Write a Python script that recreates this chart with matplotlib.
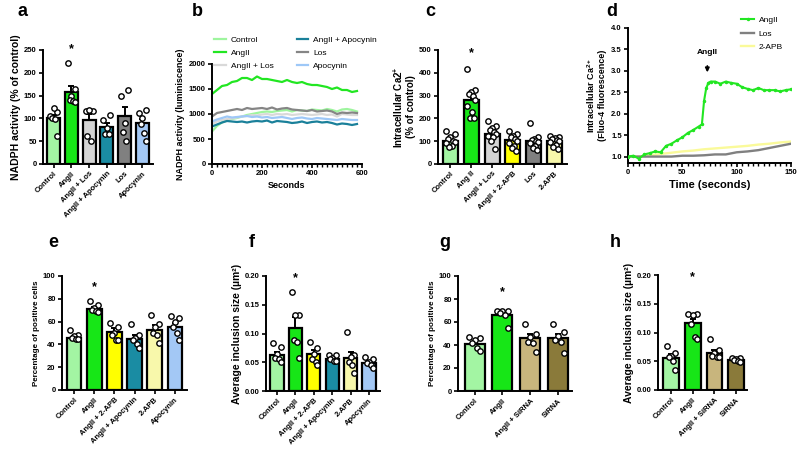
import numpy as np
import matplotlib
matplotlib.use('Agg')
import matplotlib.pyplot as plt
from matplotlib.ticker import MultipleLocator, FormatStrFormatter

plt.rcParams['font.family'] = ['Liberation Sans', 'DejaVu Sans']
plt.rcParams['mathtext.fontset'] = 'custom'
plt.rcParams['mathtext.rm'] = 'Liberation Sans:bold'
plt.rcParams['mathtext.bf'] = 'Liberation Sans:bold'
plt.rcParams['mathtext.default'] = 'bf'

# ---------------- colours ----------------
c_ctrl = '#a3f5a3'
c_ang = '#17e617'
c_ang_los = '#d4d4d4'
c_ang_apo = '#1a8ca3'
c_los = '#808080'
c_apo = '#a3c8f5'
c_ang_apb = '#ffff00'
c_apb = '#f8f8ab'
c_ang_si = '#c8b57d'
c_si = '#8a7a3a'

# ---------------- panel a ----------------
a_labels = ['Control', 'AngII', 'AngII + Los', 'AngII + Apocynin', 'Los', 'Apocynin']
a_means = [100, 157, 96, 81, 106, 90]
a_sems = [7, 14, 14, 8, 19, 9]
a_points = [[105, 113, 122, 100, 98, 62],
            [222, 165, 150, 140, 138, 135],
            [117, 117, 118, 62, 50],
            [96, 108, 78, 65, 65],
            [150, 163, 90, 70, 50],
            [111, 118, 100, 88, 68, 50]]

# ---------------- panel b ----------------
b_time = np.arange(0, 600, 20)
b_control = [650, 760, 830, 870, 900, 920, 950, 980, 1000, 1020, 1040, 1050, 1040, 1060, 1070,
             1080, 1050, 1080, 1070, 1060, 1090, 1080, 1070, 1100, 1080, 1050, 1090, 1100, 1080, 1050]
b_angii = [1400, 1480, 1560, 1580, 1640, 1660, 1720, 1720, 1680, 1750, 1700, 1700, 1680, 1660, 1640,
           1680, 1640, 1620, 1640, 1600, 1580, 1580, 1560, 1540, 1500, 1530, 1480, 1480, 1440, 1460]
b_angii_los = [800, 850, 880, 900, 910, 930, 950, 960, 980, 970, 990, 1000, 980, 1000, 990,
               1000, 980, 990, 1000, 990, 980, 990, 1000, 980, 990, 950, 1000, 990, 980, 980]
b_angii_apo = [750, 790, 830, 860, 850, 840, 850, 830, 850, 860, 850, 870, 830, 860, 850,
               840, 820, 830, 850, 820, 840, 850, 830, 840, 820, 790, 810, 800, 780, 800]
b_los = [950, 1020, 1040, 1060, 1080, 1100, 1080, 1120, 1100, 1110, 1120, 1100, 1130, 1090, 1110,
         1120, 1090, 1080, 1070, 1060, 1080, 1050, 1060, 1070, 1050, 1000, 1030, 1020, 1030, 1020]
b_apo = [850, 890, 920, 950, 930, 940, 950, 960, 940, 950, 930, 940, 920, 930, 940,
         920, 900, 920, 930, 910, 900, 920, 910, 900, 890, 880, 900, 890, 880, 880]

# ---------------- panel c ----------------
c_labels = ['Control', 'Ang II', 'AngII + Los', 'AngII + 2-APB', 'Los', '2-APB']
c_means = [100, 280, 130, 105, 100, 100]
c_sems = [10, 18, 10, 10, 10, 6]
c_points = [[145, 130, 120, 110, 100, 95, 90, 80, 75],
            [415, 325, 315, 305, 300, 280, 255, 230, 200, 200],
            [190, 165, 160, 150, 140, 130, 125, 120, 100, 65],
            [145, 130, 125, 120, 110, 100, 90, 80, 70, 55],
            [178, 120, 110, 105, 100, 95, 90, 80, 70, 60],
            [125, 120, 115, 110, 105, 100, 95, 85, 75, 65]]

# ---------------- panel d ----------------
d_time = [0, 5, 10, 15, 20, 25, 30, 35, 40, 45, 50, 55, 60, 65, 68, 70, 72, 74, 76, 80,
          85, 90, 95, 100, 105, 110, 115, 120, 125, 130, 135, 140, 145, 150]
d_angii = [1.0, 1.02, 0.95, 1.05, 1.08, 1.12, 1.1, 1.25, 1.3, 1.38, 1.45, 1.55, 1.62, 1.7, 1.75,
           2.3, 2.6, 2.72, 2.75, 2.75, 2.7, 2.75, 2.72, 2.7, 2.62, 2.58, 2.55, 2.6, 2.55, 2.55,
           2.55, 2.52, 2.55, 2.57]
d_time2 = np.arange(0, 151, 10)
d_los = [1.0, 1.0, 1.0, 1.0, 1.0, 1.02, 1.02, 1.03, 1.05, 1.05, 1.1, 1.12, 1.15, 1.2, 1.25, 1.3]
d_apb = [1.0, 1.0, 1.03, 1.06, 1.09, 1.12, 1.14, 1.17, 1.19, 1.21, 1.23, 1.25, 1.28, 1.3, 1.33, 1.35]

# ---------------- panels e / f ----------------
ef_labels = ['Control', 'AngII', 'AngII + 2-APB', 'AngII + Apocynin', '2-APB', 'Apocynin']
e_means = [46, 71, 51, 45, 53, 55]
e_sems = [1.5, 2, 3, 3.5, 4, 3.5]
e_points = [[53, 48, 47, 46, 45, 45],
            [78, 75, 72, 70, 69, 68],
            [59, 55, 50, 48, 44, 44],
            [58, 48, 46, 44, 40, 37],
            [66, 58, 55, 50, 48, 41],
            [65, 63, 60, 55, 50, 44]]
f_means = [0.063, 0.110, 0.065, 0.055, 0.057, 0.049]
f_sems = [0.005, 0.018, 0.007, 0.003, 0.011, 0.003]
f_points = [[0.083, 0.077, 0.065, 0.058, 0.055, 0.050],
            [0.172, 0.133, 0.132, 0.088, 0.085, 0.057],
            [0.085, 0.075, 0.065, 0.055, 0.050, 0.046],
            [0.063, 0.062, 0.058, 0.055, 0.052, 0.053],
            [0.103, 0.062, 0.060, 0.050, 0.045, 0.031],
            [0.060, 0.055, 0.050, 0.048, 0.045, 0.040]]

# ---------------- panels g / h ----------------
gh_labels = ['Control', 'AngII', 'AngII + SiRNA', 'SiRNA']
g_means = [41, 66, 46, 46]
g_sems = [2.5, 2.5, 3.5, 3.5]
g_points = [[47, 46, 44, 42, 37, 35],
            [70, 70, 70, 68, 66, 55],
            [58, 50, 47, 43, 42, 34],
            [58, 51, 48, 44, 43, 33]]
h_means = [0.056, 0.116, 0.065, 0.052]
h_sems = [0.006, 0.008, 0.005, 0.002]
h_points = [[0.077, 0.065, 0.060, 0.057, 0.050, 0.035],
            [0.133, 0.132, 0.130, 0.115, 0.093, 0.088],
            [0.089, 0.070, 0.065, 0.060, 0.058, 0.057],
            [0.055, 0.055, 0.054, 0.052, 0.050, 0.048]]

W, H = 800, 458
fig = plt.figure(figsize=(8, 4.58), dpi=100)


def add_ax(left, top, right, bottom):
    return fig.add_axes([left / W, 1 - bottom / H, (right - left) / W, (bottom - top) / H])


def style(ax, labelsize=5.5):
    for s in ['top', 'right']:
        ax.spines[s].set_visible(False)
    for s in ['left', 'bottom']:
        ax.spines[s].set_linewidth(1.4)
    ax.tick_params(direction='out', length=3, width=1.2, labelsize=labelsize, pad=1.5)
    ax.tick_params(which='minor', direction='out', length=2.5, width=1.0)
    for t in ax.get_xticklabels() + ax.get_yticklabels():
        t.set_fontweight('bold')


def spread(n, w=0.2):
    pattern = np.array([-1, 1, 0, -0.5, 0.5, 1, -1, 0.25, -0.25, 0.75, -0.75])
    return pattern[:n] * w


def bar_panel(ax, labels, means, sems, points, colors, ymax, ystep, ylabel, star_y,
              fmt='%d', ylabsize=7, xmax=None):
    x = np.arange(len(labels))
    ax.bar(x, means, width=0.72, color=colors, edgecolor='black', linewidth=1.6, zorder=1)
    ax.errorbar(x, means, yerr=[np.zeros(len(x)), sems], fmt='none', ecolor='black',
                elinewidth=1.4, capsize=2.5, capthick=1.4, zorder=2)
    for xi, pts in zip(x, points):
        ax.scatter(xi + spread(len(pts)), pts, s=15, facecolor='white', edgecolor='black',
                   linewidth=1.0, zorder=3, clip_on=False)
    ax.text(1, star_y, '*', ha='center', va='center', fontsize=9, fontweight='bold')
    ax.set_ylim(0, ymax)
    ax.set_xlim(-0.6, len(labels) - 0.4 if xmax is None else xmax)
    ax.yaxis.set_major_locator(MultipleLocator(ystep))
    ax.yaxis.set_major_formatter(FormatStrFormatter(fmt))
    ax.set_xticks(x)
    ax.set_xticklabels(labels, rotation=45, ha='right', rotation_mode='anchor')
    ax.set_ylabel(ylabel, fontsize=ylabsize, fontweight='bold', labelpad=2)
    style(ax)


# a
ax_a = add_ax(43, 50, 153, 164)
bar_panel(ax_a, a_labels, a_means, a_sems, a_points,
          [c_ctrl, c_ang, c_ang_los, c_ang_apo, c_los, c_apo], 250, 50,
          'NADPH activity (% of control)', 252, ylabsize=7.5)

# b
ax_b = add_ax(212, 64, 362, 164)
b_series = [('Control', b_control, '#9ef59e'), ('AngII', b_angii, '#22e622'),
            ('AngII + Los', b_angii_los, '#d9d9d9'), ('AngII + Apocynin', b_angii_apo, '#1a809a'),
            ('Los', b_los, '#858585'), ('Apocynin', b_apo, '#9ec8f7')]
for name, vals, col in b_series:
    ax_b.plot(b_time, vals, color=col, lw=1.6, label=name)
ax_b.set_xlim(0, 600)
ax_b.set_ylim(0, 2000)
ax_b.xaxis.set_major_locator(MultipleLocator(200))
ax_b.xaxis.set_minor_locator(MultipleLocator(20))
ax_b.yaxis.set_major_locator(MultipleLocator(500))
ax_b.set_xlabel('Seconds', fontsize=6.5, fontweight='bold', labelpad=3)
ax_b.set_ylabel('NADPH activity (luminiscence)', fontsize=6.5, fontweight='bold', labelpad=3)
style(ax_b)
fig.legend(handles=ax_b.get_lines(), loc='center left', bbox_to_anchor=(214 / W, 1 - 53 / H),
           ncol=2, frameon=False, fontsize=6, handlelength=1.4, handletextpad=0.6,
           columnspacing=2.8, labelspacing=0.65, borderaxespad=0, borderpad=0)

# c
ax_c = add_ax(438, 50, 567, 164)
bar_panel(ax_c, c_labels, c_means, c_sems, c_points,
          [c_ctrl, c_ang, c_ang_los, c_ang_apb, c_los, c_apb], 500, 100,
          'Intracellular Ca2$^{+}$\n(% of control)', 485, ylabsize=7)

# d
ax_d = add_ax(628, 28, 791, 163)
ax_d.plot(d_time, d_angii, color='#22e622', lw=1.5, marker='.', ms=3, label='AngII', zorder=3)
ax_d.plot(d_time2, d_los, color='#808080', lw=1.7, label='Los', zorder=2)
ax_d.plot(d_time2, d_apb, color='#fafa9a', lw=1.7, label='2-APB', zorder=1)
ax_d.set_xlim(0, 150)
ax_d.set_ylim(0.85, 4.0)
ax_d.set_yticks(np.arange(1.0, 4.01, 0.5))
ax_d.yaxis.set_major_formatter(FormatStrFormatter('%.1f'))
ax_d.xaxis.set_major_locator(MultipleLocator(50))
ax_d.xaxis.set_minor_locator(MultipleLocator(5))
ax_d.set_xlabel('Time (seconds)', fontsize=8, fontweight='bold', labelpad=3)
ax_d.set_ylabel('Intracellular Ca$^{2+}$\n(Fluo-4 fluorescence)', fontsize=6.5,
                fontweight='bold', labelpad=3)
ax_d.annotate('', xy=(73, 2.9), xytext=(73, 3.18),
              arrowprops=dict(arrowstyle='-|>', color='black', lw=1.2, mutation_scale=6))
ax_d.text(73, 3.42, 'AngII', ha='center', va='center', fontsize=6, fontweight='bold')
style(ax_d)
ax_d.legend(loc='upper left', bbox_to_anchor=(741 / W, 1 - 16 / H),
            bbox_transform=fig.transFigure, frameon=False, fontsize=6,
            handlelength=1.6, handletextpad=0.5, labelspacing=0.7, borderpad=0, borderaxespad=0)

# e
ax_e = add_ax(62, 276, 187, 390)
bar_panel(ax_e, ef_labels, e_means, e_sems, e_points,
          [c_ctrl, c_ang, c_ang_apb, c_ang_apo, c_apb, c_apo], 100, 20,
          'Percentage of positive cells', 90, ylabsize=5.8)

# f
ax_f = add_ax(266, 276, 380, 391)
bar_panel(ax_f, ef_labels, f_means, f_sems, f_points,
          [c_ctrl, c_ang, c_ang_apb, c_ang_apo, c_apb, c_apo], 0.20, 0.05,
          'Average inclusion size (µm²)', 0.197, fmt='%.2f', ylabsize=7.5)

# g
ax_g = add_ax(458, 276, 572, 391)
bar_panel(ax_g, gh_labels, g_means, g_sems, g_points,
          [c_ctrl, c_ang, c_ang_si, c_si], 100, 20,
          'Percentage of positive cells', 86, ylabsize=5.8, xmax=3.5)

# h
ax_h = add_ax(658, 275, 747, 390)
bar_panel(ax_h, gh_labels, h_means, h_sems, h_points,
          [c_ctrl, c_ang, c_ang_si, c_si], 0.20, 0.05,
          'Average inclusion size (µm²)', 0.197, fmt='%.2f', ylabsize=7.5, xmax=3.5)

# panel letters
for letter, px, py in [('a', 23, 12), ('b', 197, 12), ('c', 430, 12), ('d', 612, 12),
                       ('e', 53, 243), ('f', 252, 243), ('g', 445, 243), ('h', 615, 243)]:
    fig.text(px / W, 1 - py / H, letter, fontsize=13, fontweight='bold', ha='center', va='center')

fig.savefig('out.png', dpi=100)
